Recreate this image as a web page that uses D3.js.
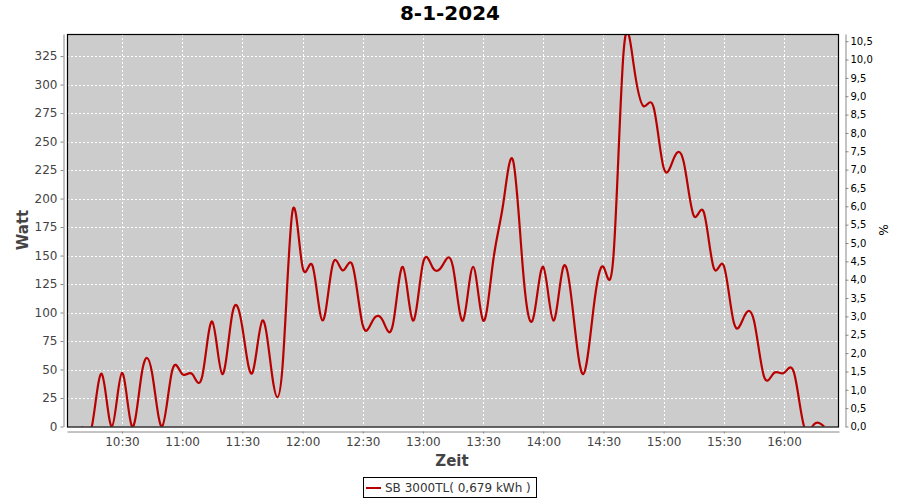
<!DOCTYPE html>
<html><head><meta charset="utf-8">
<script src="https://cdn.jsdelivr.net/npm/d3@7"></script>
<style>
body{margin:0;background:#fff;}
svg text{font-family:"DejaVu Sans",sans-serif;}
</style></head>
<body><svg id="c" width="900" height="500"></svg>
<script>
const chartTitle = "8-1-2024";
const dateStr = "2024-01-08";
const times = ["10:10","10:15","10:20","10:25","10:30","10:35","10:40","10:45","10:50","10:55",
"11:00","11:05","11:10","11:15","11:20","11:25","11:30","11:35","11:40","11:45","11:50","11:55",
"12:00","12:05","12:10","12:15","12:20","12:25","12:30","12:35","12:40","12:45","12:50","12:55",
"13:00","13:05","13:10","13:15","13:20","13:25","13:30","13:35","13:40","13:45","13:50","13:55",
"14:00","14:05","14:10","14:15","14:20","14:25","14:30","14:35","14:40","14:45","14:50","14:55",
"15:00","15:05","15:10","15:15","15:20","15:25","15:30","15:35","15:40","15:45","15:50","15:55",
"16:00","16:05","16:10","16:15","16:20"];
const watts = [0,0,46,0,47,0,48,47,0,49,
46,46,44,92,46,99,87,47,93,43,52,189,
140,141,93,142,137,141,89,93,93,89,140,93,
143,139,142,140,93,140,93,145,195,233,135,95,
140,93,140,98,46,103,140,150,328,318,281,280,
227,235,232,185,188,139,141,91,96,93,44,47,
47,47,0,2,0];
const xTickLabels = ["10:30","11:00","11:30","12:00","12:30","13:00","13:30","14:00","14:30","15:00","15:30","16:00"];
const leftTicks = [0,25,50,75,100,125,150,175,200,225,250,275,300,325];
const rightTicks = [0,0.5,1,1.5,2,2.5,3,3.5,4,4.5,5,5.5,6,6.5,7,7.5,8,8.5,9,9.5,10,10.5];
const nominalPower = 3220;
const seriesName = "SB 3000TL( 0,679 kWh )";
const yLabel = "Watt", xLabel = "Zeit", rLabel = "%";

const parse = d3.timeParse("%Y-%m-%d %H:%M");
const data = times.map((t,i)=>({t:parse(dateStr+" "+t), v:watts[i]}));

const svg = d3.select("#c");
const L=67, R=839, T=34, B=426.5;
const ext = d3.extent(data, d=>d.t);
const span = ext[1]-ext[0];
const x = d3.scaleTime().domain([new Date(+ext[0]-span*0.02), new Date(+ext[1]+span*0.02)]).range([L,R]);
const yMax = d3.max(watts)*1.05;
const y = d3.scaleLinear().domain([0,yMax]).range([B,T]);
const yR = d3.scaleLinear().domain([0,yMax/nominalPower*100]).range([B,T]);

// title
svg.append("text").attr("x",450).attr("y",20).attr("text-anchor","middle")
  .attr("font-size",20).attr("font-weight","bold").attr("fill","#000").text(chartTitle);

// plot background
svg.append("rect").attr("x",L).attr("y",T).attr("width",R-L).attr("height",B-T).attr("fill","#cccccc");

const xTicks = xTickLabels.map(s=>parse(dateStr+" "+s));
// grid
svg.append("g").selectAll("line").data(leftTicks).join("line")
  .attr("x1",L).attr("x2",R).attr("y1",d=>Math.round(y(d))+0.5).attr("y2",d=>Math.round(y(d))+0.5)
  .attr("stroke","#fff").attr("stroke-dasharray","2,2");
svg.append("g").selectAll("line").data(xTicks).join("line")
  .attr("y1",T).attr("y2",B).attr("x1",d=>Math.round(x(d))+0.5).attr("x2",d=>Math.round(x(d))+0.5)
  .attr("stroke","#fff").attr("stroke-dasharray","2,2");

// clip & line
svg.append("clipPath").attr("id","clip").append("rect").attr("x",L).attr("y",T).attr("width",R-L).attr("height",B-T);
const line = d3.line().x(d=>x(d.t)).y(d=>y(d.v)).curve(d3.curveNatural);
svg.append("path").datum(data).attr("clip-path","url(#clip)").attr("d",line)
  .attr("fill","none").attr("stroke","#b80000").attr("stroke-width",2.2).attr("stroke-linejoin","round");

// border
svg.append("rect").attr("x",L+0.5).attr("y",T+0.5).attr("width",R-L-1).attr("height",B-T).attr("fill","none").attr("stroke","#000").attr("stroke-width",1.2);

// axes
const ax = svg.append("g").attr("transform",`translate(0,431.5)`)
  .call(d3.axisBottom(x).tickValues(xTicks).tickFormat(d3.timeFormat("%H:%M")).tickSizeOuter(0).tickSizeInner(2).tickPadding(4));
const al = svg.append("g").attr("transform",`translate(63.5,0)`)
  .call(d3.axisLeft(y).tickValues(leftTicks).tickSizeOuter(0).tickSizeInner(3).tickPadding(3));
const ar = svg.append("g").attr("transform",`translate(845.5,0)`)
  .call(d3.axisRight(yR).tickValues(rightTicks).tickFormat(d=>d3.format(".1f")(d).replace(".",",")).tickSizeOuter(0).tickSizeInner(3).tickPadding(2));
[ax,al,ar].forEach(g=>{
  g.select(".domain").attr("stroke","#888");
  g.selectAll(".tick line").attr("stroke","#888");
  g.selectAll("text").attr("font-family","DejaVu Sans").attr("font-size",12).attr("fill","#444");
});
ar.selectAll("text").attr("font-size",10).attr("fill","#000");

// axis labels
svg.append("text").attr("x",452).attr("y",466).attr("text-anchor","middle").attr("font-size",15).attr("font-weight","bold").attr("fill","#444").text(xLabel);
svg.append("text").attr("transform","translate(28,230) rotate(-90)").attr("text-anchor","middle").attr("font-size",15).attr("font-weight","bold").attr("fill","#444").text(yLabel);
svg.append("text").attr("transform","translate(879,230) rotate(90)").attr("text-anchor","middle").attr("font-size",12).attr("fill","#000").text(rLabel);

// legend
const lg = svg.append("g");
lg.append("rect").attr("x",363.5).attr("y",477.5).attr("width",173).attr("height",20).attr("fill","#fff").attr("stroke","#000");
lg.append("line").attr("x1",366).attr("x2",381).attr("y1",488).attr("y2",488).attr("stroke","#b80000").attr("stroke-width",2);
lg.append("text").attr("x",385).attr("y",492).attr("font-size",12).attr("fill","#333").text(seriesName);
</script></body></html>
